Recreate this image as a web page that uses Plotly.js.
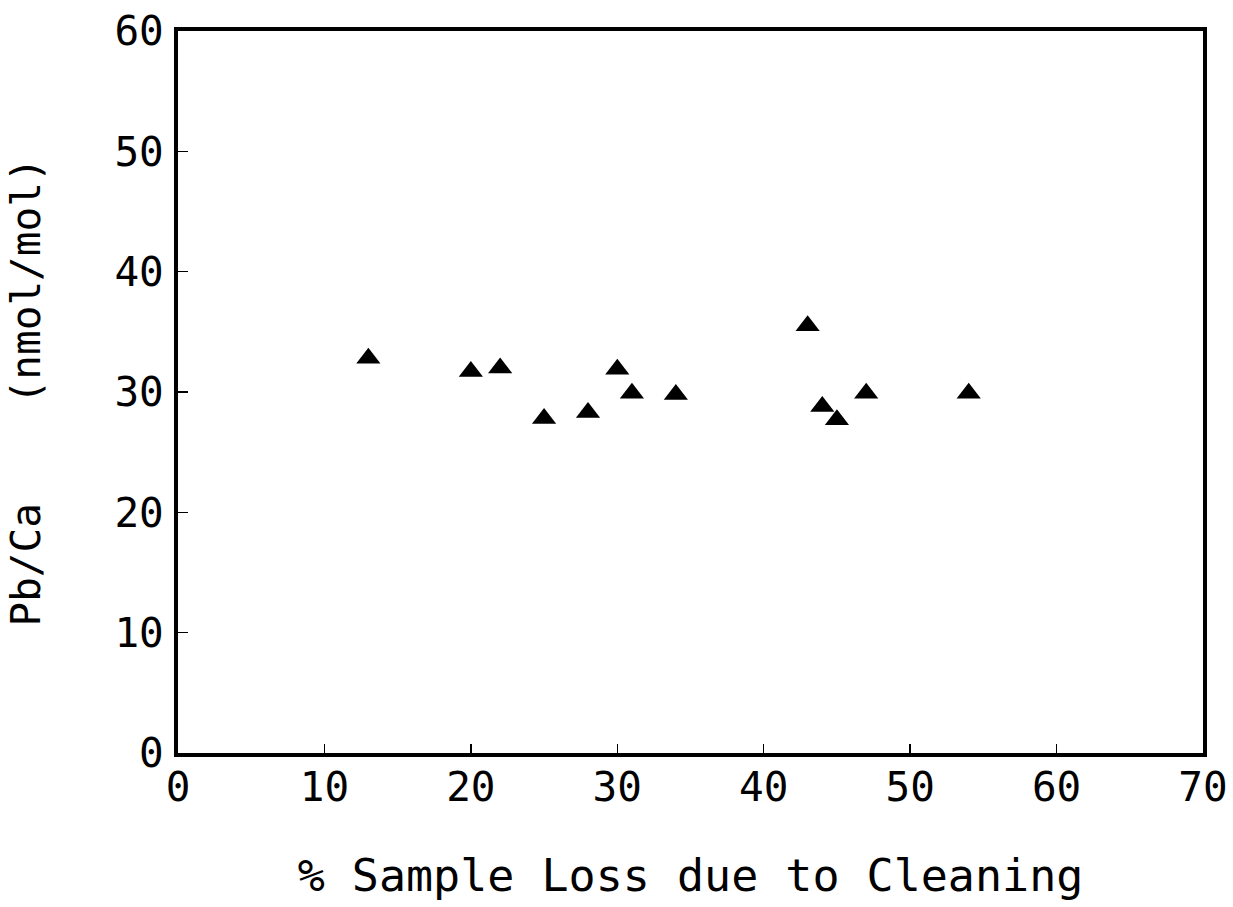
<!DOCTYPE html>
<html><head><meta charset="utf-8">
<script src="https://cdn.plot.ly/plotly-3.0.1.min.js"></script>
<style>html,body{margin:0;padding:0;background:#fff}#c{width:1233px;height:907px}</style>
</head><body><div id="c"></div>
<script>
const sampleLoss = [13, 20, 22, 25, 28, 30, 31, 34, 43, 44, 45, 47, 54];
const pbCa = [32.8, 31.7, 32.0, 27.8, 28.3, 31.9, 29.9, 29.8, 35.5, 28.8, 27.7, 29.9, 29.9];
const xTicks = [0, 10, 20, 30, 40, 50, 60, 70];
const yTicks = [0, 10, 20, 30, 40, 50, 60];

const fontFam = '"DejaVu Sans Mono", "Liberation Mono", monospace';
Plotly.newPlot('c', [{
  x: sampleLoss, y: pbCa, type: 'scatter', mode: 'markers',
  marker: {symbol: 'triangle-up', size: 21, color: '#000'},
  hoverinfo: 'skip'
}], {
  width: 1233, height: 907,
  margin: {l: 178, r: 30, t: 31, b: 154},
  paper_bgcolor: '#fff', plot_bgcolor: '#fff',
  showlegend: false,
  font: {family: fontFam, color: '#000'},
  xaxis: {
    range: [0, 70], tickvals: xTicks, ticktext: xTicks.map(String),
    showgrid: false, zeroline: false,
    showline: true, linewidth: 4, linecolor: '#000', mirror: true,
    ticks: 'inside', ticklen: 9, tickwidth: 1.5, tickcolor: '#000',
    tickfont: {size: 41, family: fontFam}, ticklabelstandoff: -5,
    title: {text: '% Sample Loss due to Cleaning', font: {size: 45, family: fontFam}, standoff: 50}
  },
  yaxis: {
    range: [0, 60], tickvals: yTicks, ticktext: yTicks.map(String),
    showgrid: false, zeroline: false,
    showline: true, linewidth: 4, linecolor: '#000', mirror: true,
    ticks: 'inside', ticklen: 10, tickwidth: 1.5, tickcolor: '#000',
    tickfont: {size: 41, family: fontFam}, ticklabelstandoff: 2,
    title: {text: 'Pb/Ca    (nmol/mol)', font: {size: 41, family: fontFam}, standoff: 62}
  }
}, {staticPlot: true});
</script></body></html>
